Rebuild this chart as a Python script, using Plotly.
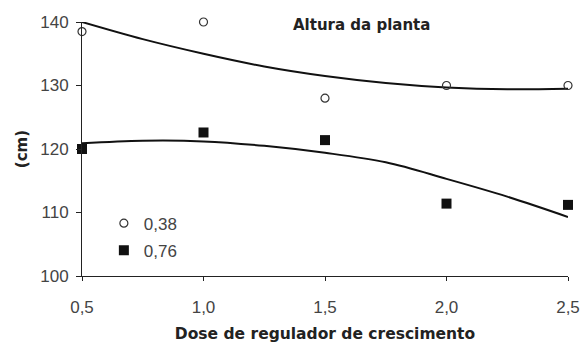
import plotly.graph_objects as go

doses = [0.5, 1.0, 1.5, 2.0, 2.5]
alt_038 = [138.5, 140.0, 128.0, 130.0, 130.0]
alt_076 = [120.0, 122.6, 121.4, 111.4, 111.2]

curve_x = [0.5, 0.75, 1.0, 1.25, 1.5, 1.75, 2.0, 2.25, 2.5]
curve_038 = [140.0, 137.3, 135.0, 133.0, 131.5, 130.4, 129.7, 129.4, 129.5]
curve_076 = [120.9, 121.3, 121.2, 120.5, 119.4, 117.9, 115.3, 112.5, 109.3]

series_names = ["0,38", "0,76"]
x_ticks = [0.5, 1.0, 1.5, 2.0, 2.5]
x_tick_labels = ["0,5", "1,0", "1,5", "2,0", "2,5"]
y_ticks = [100, 110, 120, 130, 140]

fig = go.Figure()
fig.add_trace(go.Scatter(x=curve_x, y=curve_038, mode="lines", line=dict(color="#111", width=2, shape="spline"),
                         showlegend=False, hoverinfo="skip", cliponaxis=False))
fig.add_trace(go.Scatter(x=curve_x, y=curve_076, mode="lines", line=dict(color="#111", width=2, shape="spline"),
                         showlegend=False, hoverinfo="skip", cliponaxis=False))
fig.add_trace(go.Scatter(x=doses, y=alt_038, mode="markers", name=series_names[0], legendgroup="a", cliponaxis=False,
                         marker=dict(symbol="circle-open", size=8, color="#333", line=dict(width=1.2))))
fig.add_trace(go.Scatter(x=doses, y=alt_076, mode="markers", name=series_names[1], legendgroup="b", cliponaxis=False,
                         marker=dict(symbol="square", size=10, color="#111")))

fig.update_layout(
    width=584, height=343,
    margin=dict(l=82, r=16, t=22, b=67),
    paper_bgcolor="white", plot_bgcolor="white",
    font=dict(family="Liberation Sans, Arial, sans-serif", size=17, color="#444"),
    legend=dict(x=0.045, y=0.277, xanchor="left", yanchor="top", bgcolor="rgba(0,0,0,0)",
                font=dict(size=17, color="#444"), tracegroupgap=2, itemwidth=30),
    xaxis=dict(range=[0.5, 2.5], tickvals=x_ticks, ticktext=x_tick_labels, showgrid=False, zeroline=False,
               showline=True, linecolor="#222", linewidth=1, ticks="outside", ticklen=4, tickcolor="#222",
               tickfont=dict(size=17, color="#444"), ticklabelstandoff=12, automargin=False,
               title=dict(text="<b>Dose de regulador de crescimento</b>", standoff=13,
                          font=dict(family="DejaVu Sans, Verdana, sans-serif", size=15.5, color="#222"))),
    yaxis=dict(range=[100, 140], tickvals=y_ticks, showgrid=False, zeroline=False,
               showline=True, linecolor="#222", linewidth=1, ticks="outside", ticklen=5, tickcolor="#222",
               tickfont=dict(size=17, color="#444"), ticklabelstandoff=4, automargin=False,
               title=dict(text="<b>(cm)</b>", standoff=8,
                          font=dict(family="DejaVu Sans, Verdana, sans-serif", size=15, color="#222"))),
    annotations=[dict(text="<b>Altura da planta</b>", xref="paper", yref="paper", x=0.43, y=0.99,
                      xanchor="left", yanchor="middle", showarrow=False,
                      font=dict(family="DejaVu Sans, Verdana, sans-serif", size=15, color="#222"))],
)
fig.write_html("out.html")
